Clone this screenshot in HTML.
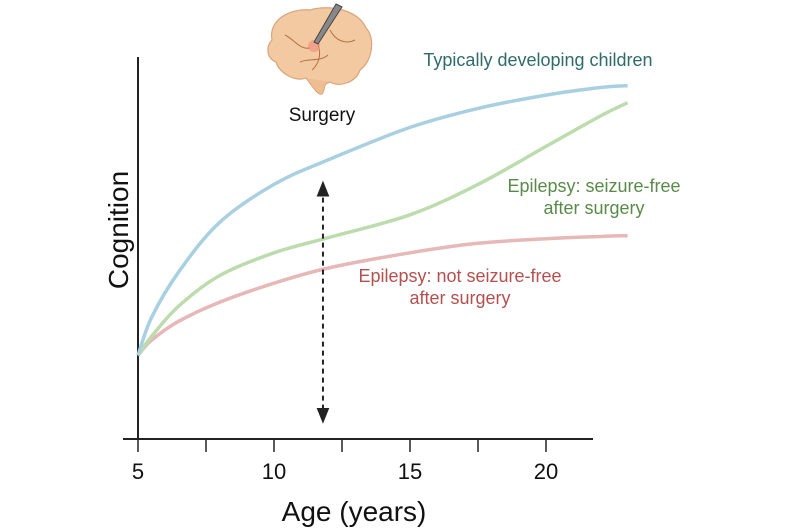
<!DOCTYPE html>
<html><head><meta charset="utf-8"><style>
body{margin:0;background:#fff;}
svg{display:block;font-family:"Liberation Sans",sans-serif;}
</style></head><body>
<svg width="801" height="530" viewBox="0 0 801 530">
<defs>
<marker id="ah" viewBox="0 0 10 10" refX="5" refY="5" markerWidth="8" markerHeight="8" orient="auto-start-reverse"><path d="M0,1 L10,5 L0,9 z" fill="#222"/></marker>
</defs>
<g id="brain">
<path d="M272,40 C268,20 290,8 310,10 C330,4 358,10 366,28 C376,38 372,62 360,70 C356,82 340,88 330,82 C322,86 310,84 306,78 C296,82 280,74 276,62 C266,58 266,46 272,40 z" fill="#f2c9a0" stroke="#d9a57a" stroke-width="1.2"/>
<path d="M306,78 C312,86 318,96 322,94 C326,90 322,84 330,82" fill="#eebd92" stroke="#d9a57a"/>
<path d="M285,35 C295,40 300,50 310,48 M330,30 C335,40 345,45 355,40 M300,62 C310,58 320,62 328,55 M318,45 C322,55 318,65 312,70" fill="none" stroke="#b5704a" stroke-width="1"/>
<circle cx="314" cy="46" r="6" fill="#f08a7a" opacity="0.6"/>
<path d="M336,4 L342,7 L318,44 L314,42 z" fill="#888" stroke="#444" stroke-width="1"/>
</g>
<text x="322" y="121" font-size="19" fill="#111" text-anchor="middle">Surgery</text>
<line x1="138" y1="57" x2="138" y2="440" stroke="#222" stroke-width="2"/>
<line x1="123" y1="439" x2="593" y2="439" stroke="#222" stroke-width="2"/>
<g id="ticks"></g>
<g id="curves"></g>
<line id="arrow" stroke="#222" stroke-width="2" stroke-dasharray="5,4" marker-start="url(#ah)" marker-end="url(#ah)"/>
<text x="538" y="66" font-size="18" fill="#2f6b6a" text-anchor="middle">Typically developing children</text>
<text x="594" y="192" font-size="18" fill="#5a8a4a" text-anchor="middle">Epilepsy: seizure-free</text>
<text x="594" y="214" font-size="18" fill="#5a8a4a" text-anchor="middle">after surgery</text>
<text x="460" y="282" font-size="18" fill="#b5504f" text-anchor="middle">Epilepsy: not seizure-free</text>
<text x="460" y="304" font-size="18" fill="#b5504f" text-anchor="middle">after surgery</text>
<text transform="translate(128,230) rotate(-90)" font-size="28" fill="#111" text-anchor="middle">Cognition</text>
<text x="354" y="521" font-size="28" fill="#111" text-anchor="middle">Age (years)</text>
</svg>
<script>
const ages=[5,5.5,6.5,8,10,12,15,17.5,20,22,23];
const typical=[22,32,44,57,67,73.5,82,87,90.5,92.5,93];
const seizureFree=[22,27,35,43,49,53,59,67,77,85,88.5];
const notSeizureFree=[22,26,31,36,41,45,49,51.5,52.7,53.3,53.5];
const tickAges=[5,7.5,10,12.5,15,17.5,20];
const tickLabels=["5","","10","","15","","20"];
const arrowAge=11.8, arrowFrom=4, arrowTo=68;
const xs=a=>138+(a-5)*27.2;
const ys=c=>439-c*3.8;
const NS="http://www.w3.org/2000/svg";
const tg=document.getElementById('ticks');
tickAges.forEach((a,i)=>{
 const l=document.createElementNS(NS,'line');
 l.setAttribute('x1',xs(a));l.setAttribute('x2',xs(a));l.setAttribute('y1',439);l.setAttribute('y2',452);
 l.setAttribute('stroke','#222');l.setAttribute('stroke-width','1.5');
 
 
 tg.appendChild(l);
 if(tickLabels[i]){const t=document.createElementNS(NS,'text');
 t.setAttribute('x',xs(a));t.setAttribute('y',479);t.setAttribute('font-size','22');t.setAttribute('text-anchor','middle');t.setAttribute('fill','#111');
 t.textContent=tickLabels[i];
 
 
 tg.appendChild(t);}
});
function path(vals){
 const p=ages.map((a,i)=>[xs(a),ys(vals[i])]);
 let d='M'+p[0][0]+','+p[0][1];
 for(let i=0;i<p.length-1;i++){
  const p0=p[Math.max(i-1,0)],p1=p[i],p2=p[i+1],p3=p[Math.min(i+2,p.length-1)];
  const c1=[p1[0]+(p2[0]-p0[0])/6,p1[1]+(p2[1]-p0[1])/6];
  const c2=[p2[0]-(p3[0]-p1[0])/6,p2[1]-(p3[1]-p1[1])/6];
  d+=` C${c1[0]},${c1[1]} ${c2[0]},${c2[1]} ${p2[0]},${p2[1]}`;
 }
 return d;
}
const cg=document.getElementById('curves');
[[notSeizureFree,'#e6b8b8','curve-not-seizure-free'],[seizureFree,'#bcdcae','curve-seizure-free'],[typical,'#a9d0e0','curve-typical']].forEach(([v,c,n])=>{
 const e=document.createElementNS(NS,'path');
 e.setAttribute('d',path(v));e.setAttribute('fill','none');e.setAttribute('stroke',c);e.setAttribute('stroke-width','3.5');
 
 
 cg.appendChild(e);
});
const ar=document.getElementById('arrow');
ar.setAttribute('x1',xs(arrowAge));ar.setAttribute('x2',xs(arrowAge));
ar.setAttribute('y1',ys(arrowTo)+8);ar.setAttribute('y2',ys(arrowFrom)-8);
</script>
</body></html>
